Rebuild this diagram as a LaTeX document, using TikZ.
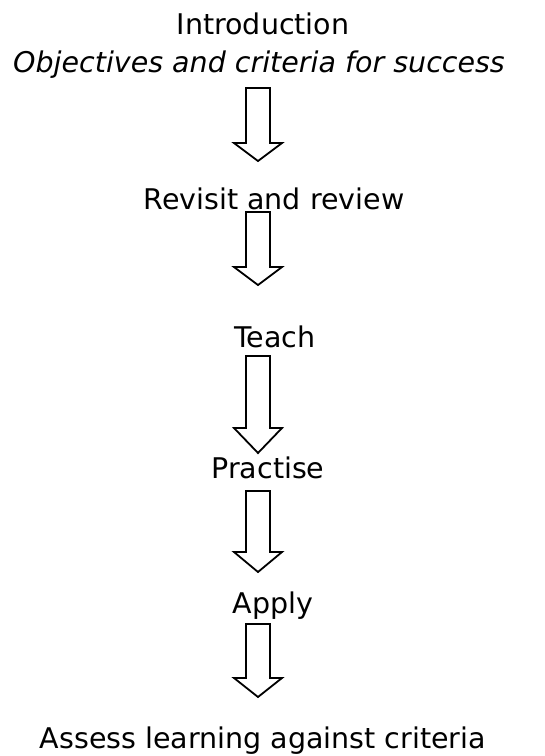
\documentclass[tikz,border=0pt]{standalone}
\usepackage{fontspec}
\setmainfont{DejaVu Sans}
\usepackage{tikz}
\usetikzlibrary{calc}

% hollow block arrow: top, neck, tip
\newcommand*{\blockarrow}[3]{%
  \draw[flowarrow] ($(#1)+(-12,0)$) -- ($(#2)+(-12,0)$) -- ($(#2)+(-24,0)$)
    -- (#3) -- ($(#2)+(24,0)$) -- ($(#2)+(12,0)$) -- ($(#1)+(12,0)$) -- cycle;}

\begin{document}
\begin{tikzpicture}[x=1pt,y=-1pt,
  stage/.style={anchor=base,inner sep=0pt,font=\fontsize{28.5}{34}\selectfont},
  flowarrow/.style={draw=black,fill=white,line width=1.8pt,line join=miter}]
\useasboundingbox (0,0) rectangle (545,756);

\node[stage] (intro)  at (263,34)  {Introduction};
\node[stage] (aims)   at (259,72)  {\itshape Objectives and criteria for success};
\node[stage] (review) at (274,209) {Revisit and review};
\node[stage] (teach)  at (275,347) {Teach};
\node[stage] (prac)   at (268,478) {Practise};
\node[stage] (apply)  at (273,613) {Apply};
\node[stage] (assess) at (263,748) {Assess learning against criteria};

% arrow end points
\coordinate (t1) at (258,88);  \coordinate (n1) at (258,143); \coordinate (p1) at (258,161);
\coordinate (t2) at (258,212); \coordinate (n2) at (258,267); \coordinate (p2) at (258,285);
\coordinate (t3) at (258,356); \coordinate (n3) at (258,428); \coordinate (p3) at (258,453);
\coordinate (t4) at (258,491); \coordinate (n4) at (258,552); \coordinate (p4) at (258,572);
\coordinate (t5) at (258,624); \coordinate (n5) at (258,678); \coordinate (p5) at (258,697);

\foreach \i in {1,...,5}
  \blockarrow{t\i}{n\i}{p\i};
\end{tikzpicture}
\end{document}
